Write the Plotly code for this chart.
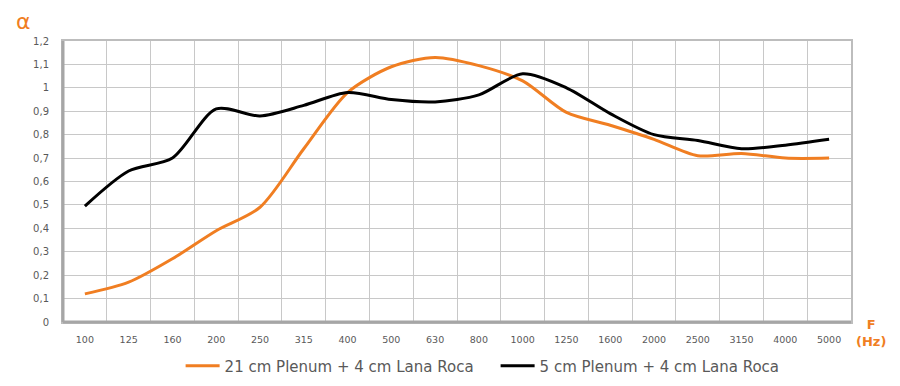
import plotly.graph_objects as go

freqs = ["100", "125", "160", "200", "250", "315", "400", "500", "630", "800",
         "1000", "1250", "1600", "2000", "2500", "3150", "4000", "5000"]
plenum21 = [0.12, 0.17, 0.27, 0.39, 0.49, 0.74, 0.98, 1.09, 1.13, 1.095,
            1.03, 0.895, 0.84, 0.78, 0.71, 0.72, 0.70, 0.70]
plenum5 = [0.495, 0.645, 0.70, 0.91, 0.88, 0.925, 0.98, 0.95, 0.94, 0.97,
           1.06, 1.00, 0.89, 0.80, 0.775, 0.74, 0.755, 0.78]
ytick_vals = [0, 0.1, 0.2, 0.3, 0.4, 0.5, 0.6, 0.7, 0.8, 0.9, 1.0, 1.1, 1.2]
ytick_text = ["0", "0,1", "0,2", "0,3", "0,4", "0,5", "0,6", "0,7", "0,8", "0,9", "1", "1,1", "1,2"]

ORANGE = "#F07E22"
GRAY_TXT = "#595959"

fig = go.Figure()
fig.add_trace(go.Scatter(x=freqs, y=plenum21, mode="lines",
                         name="21 cm Plenum + 4 cm Lana Roca",
                         line=dict(color=ORANGE, width=3, shape="spline", smoothing=0.8)))
fig.add_trace(go.Scatter(x=freqs, y=plenum5, mode="lines",
                         name="5 cm Plenum + 4 cm Lana Roca",
                         line=dict(color="#000000", width=3, shape="spline", smoothing=0.8)))

fig.update_layout(
    width=900, height=386,
    margin=dict(l=63, r=49, t=41, b=64, autoexpand=False),
    paper_bgcolor="white", plot_bgcolor="white",
    font=dict(family="DejaVu Sans", color=GRAY_TXT),
    showlegend=True,
    legend=dict(orientation="h", x=0.549, xanchor="center", y=-0.157, yanchor="middle",
                font=dict(family="DejaVu Sans", size=15, color=GRAY_TXT),
                bgcolor="rgba(0,0,0,0)", itemwidth=34,
                entrywidth=266, entrywidthmode="pixels"),
    xaxis=dict(type="category", range=[-0.5, 17.5], tickson="boundaries",
               showgrid=True, gridcolor="#c8c8c8", gridwidth=1,
               showline=True, linecolor="#bdbdbd", linewidth=2, mirror=True,
               ticks="", tickfont=dict(size=9.5, color=GRAY_TXT), ticklabelstandoff=8,
               zeroline=False, fixedrange=True),
    yaxis=dict(range=[0, 1.2], tickvals=ytick_vals, ticktext=ytick_text,
               showgrid=True, gridcolor="#c8c8c8", gridwidth=1,
               showline=True, linecolor="#bdbdbd", linewidth=2, mirror=True,
               ticks="", tickfont=dict(size=10, color=GRAY_TXT), ticklabelstandoff=10,
               zeroline=False, fixedrange=True),
)

# thicker left/bottom frame edges
fig.add_shape(type="line", xref="paper", yref="paper", x0=0, x1=0, y0=0, y1=1,
              line=dict(color="#a6a6a6", width=3))
fig.add_shape(type="line", xref="paper", yref="paper", x0=0, x1=1, y0=0, y1=0,
              line=dict(color="#a6a6a6", width=3))

fig.add_annotation(text="α", xref="paper", yref="paper", x=-0.05, y=1.068,
                   xanchor="center", yanchor="middle", showarrow=False,
                   font=dict(family="DejaVu Sans", size=22, color=ORANGE))
fig.add_annotation(text="<b>F</b><br><b>(Hz)</b>", xref="paper", yref="paper",
                   x=1.0254, y=-0.04, xanchor="center", yanchor="middle", align="center",
                   showarrow=False,
                   font=dict(family="DejaVu Sans", size=13, color=ORANGE))

fig.write_html("out.html", config={"displayModeBar": False},
               post_script="document.body.style.margin='0px';")
